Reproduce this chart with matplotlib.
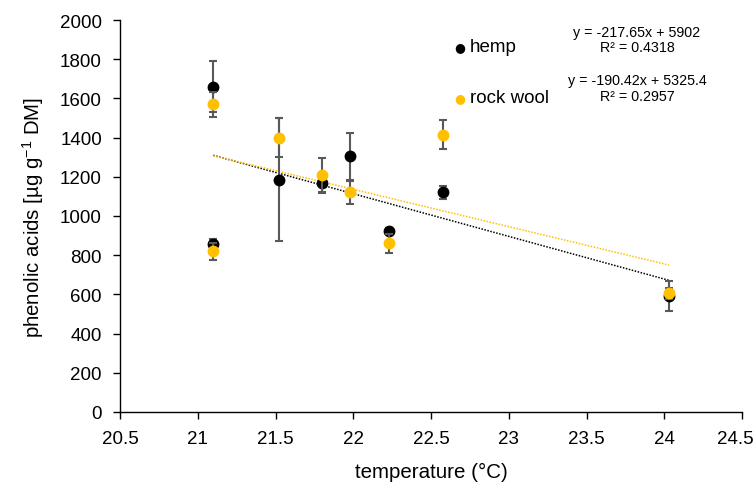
import matplotlib
matplotlib.use("Agg")
import matplotlib.pyplot as plt
import matplotlib.transforms as mtransforms
import numpy as np

plt.rcParams['font.family'] = ['Liberation Sans', 'DejaVu Sans']
plt.rcParams['mathtext.fontset'] = 'custom'
plt.rcParams['mathtext.rm'] = 'Liberation Sans'

temperature = [21.1, 21.1, 21.52, 21.8, 21.98, 22.23, 22.58, 24.03]
hemp = [1660, 857, 1185, 1168, 1304, 922, 1120, 590]
hemp_err = [130, 28, 315, 50, 120, 15, 35, 77]
rockwool = [1570, 820, 1400, 1210, 1121, 860, 1415, 605]
rockwool_err = [65, 42, 100, 87, 60, 50, 73, 28]

hemp_fit = (-217.65, 5902)
rockwool_fit = (-190.42, 5325.4)
hemp_eq = ["y = -217.65x + 5902", "R² = 0.4318"]
rockwool_eq = ["y = -190.42x + 5325.4", "R² = 0.2957"]

xticks = [20.5, 21, 21.5, 22, 22.5, 23, 23.5, 24, 24.5]
yticks = [0, 200, 400, 600, 800, 1000, 1200, 1400, 1600, 1800, 2000]

BLACK = '#000000'
GOLD = '#FFC000'
ERR = '#595959'

fig = plt.figure(figsize=(7.54, 4.85), dpi=100)
ax = fig.add_axes([120/754, 1-413/485, 622/754, 392/485])

x = np.array(temperature)
xs = np.array([x.min(), x.max()])
ax.plot(xs, hemp_fit[0]*xs + hemp_fit[1], linestyle=(0, (1, 1)), color=BLACK, lw=1.1, zorder=2)
ax.plot(xs, rockwool_fit[0]*xs + rockwool_fit[1], linestyle=(0, (1, 1)), color=GOLD, lw=1.1, zorder=2)

ax.errorbar(x, hemp, yerr=hemp_err, fmt='o', color=BLACK, ms=7.5, ecolor=ERR,
            elinewidth=1.5, capsize=3, capthick=1.5, zorder=3, label='hemp')
ax.errorbar(x, rockwool, yerr=rockwool_err, fmt='o', color=GOLD, ms=7.5, ecolor=ERR,
            elinewidth=1.5, capsize=3, capthick=1.5, zorder=4, label='rock wool')

ax.set_xlim(20.5, 24.5)
ax.set_ylim(0, 2000)
ax.set_xticks(xticks)
ax.set_xticklabels([f"{t:g}" for t in xticks])
ax.set_yticks(yticks)
ax.tick_params(axis='both', direction='out', length=5, width=1, labelsize=13.5, color='#000000')
ax.tick_params(axis='x', pad=8)
ax.tick_params(axis='y', pad=8)
for s in ['top', 'right']:
    ax.spines[s].set_visible(False)
for s in ['left', 'bottom']:
    ax.spines[s].set_color('#000000')
    ax.spines[s].set_linewidth(1)

# keep the last x tick label inside the figure
last = ax.get_xticklabels()[-1]
last.set_transform(last.get_transform() + mtransforms.ScaledTranslation(-7/100, 0, fig.dpi_scale_trans))

ax.set_ylabel(r"phenolic acids [µg g$\mathregular{^{-1}}$ DM]", fontsize=14.7, labelpad=10)
ax.set_xlabel("temperature (°C)", fontsize=14.8, labelpad=11)

# legend-like entries
fig.text(460/754, 1-48/485, "●", color=BLACK, fontsize=9, ha='center', va='center', family='DejaVu Sans')
fig.text(470/754, 1-48/485, "hemp", fontsize=13.5, ha='left', va='center')
fig.text(460/754, 1-99/485, "●", color=GOLD, fontsize=9, ha='center', va='center', family='DejaVu Sans')
fig.text(470/754, 1-99/485, "rock wool", fontsize=13.5, ha='left', va='center')

fig.text(637/754, 1-33/485, hemp_eq[0], fontsize=10.3, ha='center', va='center')
fig.text(637/754, 1-48/485, hemp_eq[1], fontsize=10.3, ha='center', va='center')
fig.text(637/754, 1-81/485, rockwool_eq[0], fontsize=10.3, ha='center', va='center')
fig.text(637/754, 1-97/485, rockwool_eq[1], fontsize=10.3, ha='center', va='center')

fig.savefig("out.png", dpi=100)
